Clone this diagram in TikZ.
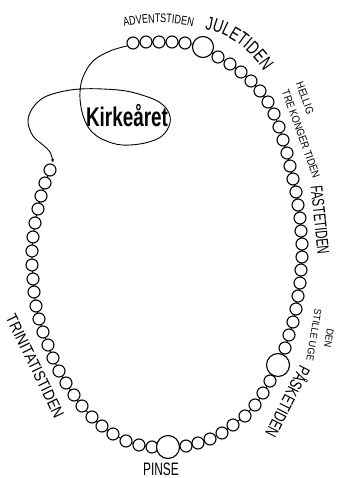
\documentclass[tikz,border=0pt]{standalone}
\usepackage{fontspec}
\setmainfont{Liberation Sans}
\newfontfamily\labA{Liberation Sans}[FakeStretch=0.72]
\newfontfamily\labB{Liberation Sans}[FakeStretch=0.66]
\newfontfamily\labC{Liberation Sans}[FakeStretch=0.85]
\newfontfamily\labD{Liberation Sans}[FakeStretch=0.9]
\newfontfamily\kirkfam{Liberation Sans}[FakeStretch=0.7]
\usetikzlibrary{decorations.text,arrows.meta}
\tikzset{
  bead/.style={draw=black, fill=white, line width=1.1pt},
  thread/.style={draw=black, line width=0.9pt},
  lbl/.style={inner sep=0pt, text=black}
}
\begin{document}
\begin{tikzpicture}[x=1pt,y=-1pt]
\useasboundingbox (0,0) rectangle (337,478);
% necklace thread
\draw[thread] plot[smooth, tension=0.5] coordinates {
 (133,43) (159,42) (185,43) (203,47) (218,57) (241,72) (260,91) (274,114) (283,140)
 (290,166) (296,192) (300,218) (302,244) (301,270) (298,296) (293,322) (285,348) (278,365)
 (270,381) (255,405) (233,425) (210,439) (186,446) (168,447) (152,447) (126,441) (102,426)
 (82,406) (66,383) (53,358) (43,332) (36,306) (33,279) (32,251) (35,223) (41,196) (50,170)};
% thread with Kirkeaaret loop
\draw[thread, -{Stealth[length=3pt,width=3.5pt]}] plot[smooth, tension=0.6] coordinates {
 (127,46) (110,51) (93,61) (83,77) (80,92) (81,107) (85,121) (92,132) (104,140) (122,145)
 (145,143) (162,136) (170,123) (168,111) (159,102) (145,96) (126,91) (103,89) (80,89)
 (60,92) (43,98) (32,109) (28,122) (33,136) (43,145) (50,152) (53,162)};
% small beads
\foreach \x/\y in {133/43,146/42,159/42,172/42,185/43,
 218/57,230/64,241/72,251/81,260/91,268/102,274/114,279/127,283/140,287/153,290/166,293/179,
 296/192,298/205,300/218,301/231,302/244,302/257,301/270,300/283,298/296,296/309,293/322,289/335,285/348,
 270/381,263/393,255/405,245/416,233/425,222/433,210/439,198/443,186/446,
 152/447,139/445,126/441,113/434,102/426,92/417,82/406,74/395,66/383,59/371,53/358,48/345,43/332,
 39/319,36/306,34/292,33/279,32/265,32/251,33/237,35/223,38/209,41/196,45/183,50/170}
  \draw[bead] (\x,\y) circle (6pt);
% big beads
\draw[bead] (203,47) circle (10.5pt);
\draw[bead] (278,365) circle (11.5pt);
\draw[bead] (168,447) circle (11.5pt);
% Kirkeaaret
\node[lbl, font=\kirkfam\bfseries\fontsize{27}{27}\selectfont] (kirke) at (127,116) {Kirkeåret};
% curved labels
\path[decorate, decoration={text along path, text align=center,
  text={|\labA\fontsize{12.5}{12.5}\selectfont|ADVENTSTIDEN}}]
  (118,28) .. controls (145,21) and (172,21) .. (199,28);
\path[decorate, decoration={text along path, text align=center,
  text={|\labA\fontsize{19}{19}\selectfont|JULETIDEN}}]
  (199,29) .. controls (223,30) and (249,46) .. (267,76);
% straight labels
\node[lbl, rotate=-70, font=\labC\fontsize{11}{11}\selectfont] (hellig) at (305,98) {HELLIG};
\node[lbl, rotate=-70, font=\labC\fontsize{11}{11}\selectfont] (tre) at (301,134) {TRE KONGER TIDEN};
\node[lbl, rotate=-84, font=\labB\fontsize{17}{17}\selectfont] (faste) at (320,220) {FASTETIDEN};
\node[lbl, rotate=-99.5, font=\labD\fontsize{10}{10}\selectfont] (den) at (329,338) {DEN};
\node[lbl, rotate=-99.5, font=\labD\fontsize{10}{10}\selectfont] (stille) at (314,335) {STILLE UGE};
\node[lbl, rotate=-117, font=\labA\fontsize{17}{17}\selectfont] (paaske) at (289,402) {PÅSKETIDEN};
\node[lbl, font=\labB\fontsize{18}{18}\selectfont] (pinse) at (161,469) {PINSE};
\node[lbl, rotate=-64, font=\labC\fontsize{16}{16}\selectfont] (trin) at (35,366) {TRINITATISTIDEN};
\end{tikzpicture}
\end{document}
